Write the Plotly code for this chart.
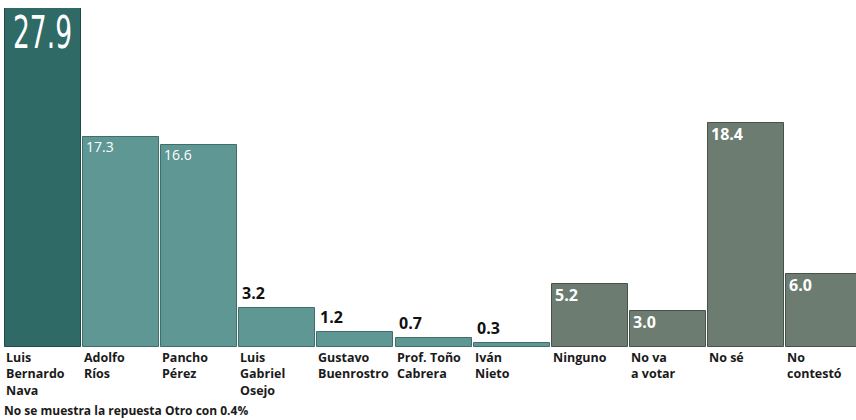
import plotly.graph_objects as go

categories = ["Luis<br>Bernardo<br>Nava", "Adolfo<br>Ríos", "Pancho<br>Pérez", "Luis<br>Gabriel<br>Osejo",
              "Gustavo<br>Buenrostro", "Prof. Toño<br>Cabrera", "Iván<br>Nieto", "Ninguno",
              "No va<br>a votar", "No sé", "No<br>contestó"]
values = [27.9, 17.3, 16.6, 3.2, 1.2, 0.7, 0.3, 5.2, 3.0, 18.4, 6.0]
value_labels = ["27.9", "17.3", "16.6", "3.2", "1.2", "0.7", "0.3", "5.2", "3.0", "18.4", "6.0"]
footnote = "No se muestra la repuesta Otro con 0.4%"

colors = ["#2f6a66"] + ["#5e9794"] * 6 + ["#6c7c70"] * 4
edge_colors = ["#1f4a47"] + ["#3f6e6b"] * 6 + ["#46524a"] * 4
label_inside = [True, True, True, False, False, False, False, True, True, True, True]
label_size = [44, 14, 14, 16, 16, 16, 16, 16, 16, 16, 16]
label_weight = [400, 400, 400, 700, 700, 700, 700, 700, 700, 700, 700]
label_family = ["DejaVu Sans, sans-serif"] + ["Open Sans, sans-serif"] * 10

xs = list(range(len(values)))
bar_w = 0.972

fig = go.Figure(go.Bar(
    x=xs, y=values, width=bar_w,
    marker=dict(color=colors, line=dict(color=edge_colors, width=1)),
    hoverinfo="skip",
))

ann = []
for i, (v, lab) in enumerate(zip(values, value_labels)):
    if label_inside[i]:
        ann.append(dict(x=i - bar_w / 2, y=v, xref="x", yref="y", text=lab, showarrow=False,
                        xanchor="left", yanchor="top", xshift=4 if i == 0 else 1, yshift=3 if i == 0 else 2,
                        font=dict(family=label_family[i], size=label_size[i], color="white",
                                  weight=label_weight[i])))
    else:
        ann.append(dict(x=i - bar_w / 2, y=v, xref="x", yref="y", text=lab, showarrow=False,
                        xanchor="left", yanchor="bottom", xshift=1, yshift=2,
                        font=dict(family=label_family[i], size=label_size[i], color="#111111",
                                  weight=label_weight[i])))
    ann.append(dict(x=i - bar_w / 2, y=0, xref="x", yref="y", text=categories[i], showarrow=False,
                    xanchor="left", yanchor="top", align="left", xshift=-1, yshift=0,
                    font=dict(family="Open Sans, sans-serif", size=12.5, color="#1a1a1a", weight=700)))

ann.append(dict(x=0, y=-0.155, xref="paper", yref="paper", text=footnote, showarrow=False,
                xanchor="left", yanchor="top", xshift=-2,
                font=dict(family="Open Sans, sans-serif", size=12, color="#1a1a1a", weight=700)))

fig.update_layout(
    width=856, height=420,
    margin=dict(l=4, r=0, t=8, b=73),
    paper_bgcolor="white", plot_bgcolor="white",
    showlegend=False,
    bargap=0,
    xaxis=dict(range=[-0.5, -0.5 + 852 / 78.1], visible=False, fixedrange=True),
    yaxis=dict(range=[0, 27.9], visible=False, fixedrange=True),
    annotations=ann,
)

post = """
document.body.style.margin = '0';
function squeezeBig(){
  document.querySelectorAll('.annotation-text').forEach(function(t){
    if (t.textContent === '27.9' && !t.getAttribute('data-sq')) {
      var b = t.getBBox();
      t.setAttribute('data-sq', '1');
      t.setAttribute('text-anchor', 'start');
      t.setAttribute('x', b.x + 2);
      t.setAttribute('textLength', '59');
      t.setAttribute('lengthAdjust', 'spacingAndGlyphs');
    }
  });
}
squeezeBig();
setTimeout(squeezeBig, 50);
"""

fig.write_html("out.html", post_script=post, config={"displayModeBar": False})
